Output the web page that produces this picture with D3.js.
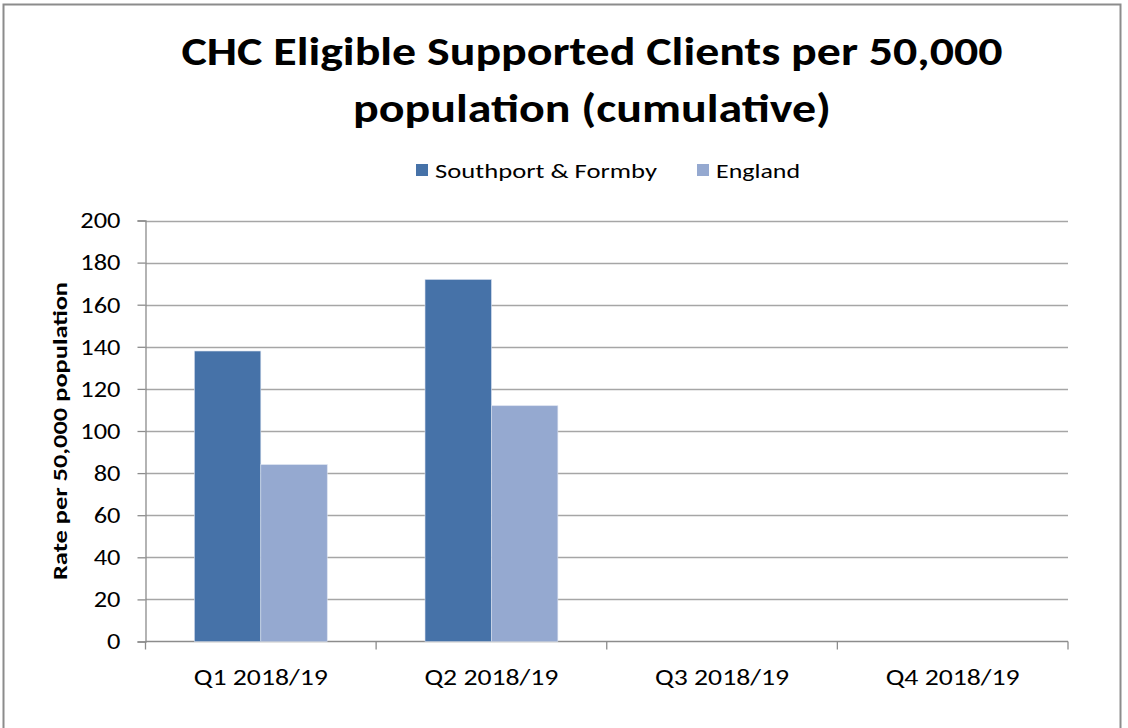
<!DOCTYPE html>
<html>
<head>
<meta charset="utf-8">
<script src="https://cdn.jsdelivr.net/npm/d3@7"></script>
<style>
  body { margin: 0; background: #fff; }
  text { font-family: Carlito, "Liberation Sans Narrow", "Liberation Sans", Arial, sans-serif; fill: #000; }
</style>
</head>
<body>
<svg id="svg"></svg>
<script>
const categories = ["Q1 2018/19", "Q2 2018/19", "Q3 2018/19", "Q4 2018/19"]
const seriesNames = ["Southport & Formby", "England"]
const southport = [138, 172, null, null]
const england = [84, 112, null, null]
const yTicks = [0, 20, 40, 60, 80, 100, 120, 140, 160, 180, 200]
const colors = ["#4672A8", "#95A9D0"]

const svg = d3.select("#svg").attr("width", 1128).attr("height", 728)

// chart frame
svg.append("rect")
  .attr("x", 3.5).attr("y", 4.5)
  .attr("width", 1117).attr("height", 740)
  .attr("fill", "#fff")
  .attr("stroke", "#8c8c8c")
  .attr("stroke-width", 2)

// title
const title = svg.append("text")
  .attr("text-anchor", "middle")
  .attr("font-weight", "bold")
  .attr("font-size", 40)
title.append("tspan").attr("x", 592).attr("y", 65)
  .attr("textLength", 821).attr("lengthAdjust", "spacingAndGlyphs")
  .text("CHC Eligible Supported Clients per 50,000")
title.append("tspan").attr("x", 592).attr("y", 122)
  .attr("textLength", 478).attr("lengthAdjust", "spacingAndGlyphs")
  .text("population (cumulative)")

// legend
const legendItems = [
  { name: seriesNames[0], color: colors[0], x: 416, w: 222 },
  { name: seriesNames[1], color: colors[1], x: 697, w: 84 }
]
const legend = svg.append("g")
legendItems.forEach(d => {
  legend.append("rect")
    .attr("x", d.x).attr("y", 164)
    .attr("width", 12).attr("height", 12)
    .attr("fill", d.color)
  legend.append("text")
    .attr("x", d.x + 19).attr("y", 178)
    .attr("font-size", 21)
    .attr("textLength", d.w).attr("lengthAdjust", "spacingAndGlyphs")
    .text(d.name)
})

// plot area
const x0 = 145.5, x1 = 1068
const x = d3.scaleBand().domain(categories).range([x0, x1]).paddingInner(0.424).paddingOuter(0.212)
const xSub = d3.scaleBand().domain(seriesNames).range([0, x.bandwidth()])
const y = d3.scaleLinear().domain([0, 200]).range([641.5, 220.5])

// gridlines
svg.append("g")
  .selectAll("line")
  .data(yTicks.filter(t => t > 0))
  .enter()
  .append("line")
  .attr("x1", x0).attr("x2", x1)
  .attr("y1", d => Math.round(y(d)) + 0.5).attr("y2", d => Math.round(y(d)) + 0.5)
  .attr("stroke", "#a6a6a6")
  .attr("stroke-width", 1.3)

// y axis
const yAxis = svg.append("g")
  .attr("transform", `translate(${x0},0)`)
  .call(d3.axisLeft(y).tickValues(yTicks).tickSize(8).tickPadding(17))
yAxis.select(".domain").attr("stroke", "#8c8c8c").attr("stroke-width", 1.3)
yAxis.selectAll(".tick line").attr("stroke", "#8c8c8c").attr("stroke-width", 1.3)
yAxis.selectAll(".tick text")
  .attr("font-size", 23).attr("fill", "#000")
  .attr("textLength", d => String(d).length * 13.4).attr("lengthAdjust", "spacingAndGlyphs")
  .style("font-family", "Carlito, 'Liberation Sans', Arial, sans-serif")

// x axis
const xStep = (x1 - x0) / categories.length
const xAxis = svg.append("g")
  .attr("transform", `translate(0,${y(0)})`)
xAxis.append("line")
  .attr("x1", x0).attr("x2", x1)
  .attr("stroke", "#8c8c8c").attr("stroke-width", 1.3)
xAxis.selectAll("line.tk")
  .data(d3.range(categories.length + 1))
  .enter()
  .append("line")
  .classed("tk", true)
  .attr("x1", i => x0 + i * xStep).attr("x2", i => x0 + i * xStep)
  .attr("y1", 0).attr("y2", 8)
  .attr("stroke", "#8c8c8c").attr("stroke-width", 1.3)
xAxis.selectAll("text")
  .data(categories)
  .enter()
  .append("text")
  .attr("x", d => x(d) + x.bandwidth() / 2)
  .attr("y", 43)
  .attr("text-anchor", "middle")
  .attr("font-size", 23)
  .attr("textLength", 134).attr("lengthAdjust", "spacingAndGlyphs")
  .text(d => d)

// y axis title
svg.append("text")
  .attr("transform", "translate(67,431) rotate(-90)")
  .attr("text-anchor", "middle")
  .attr("font-weight", "bold")
  .attr("font-size", 20.5)
  .attr("textLength", 298).attr("lengthAdjust", "spacingAndGlyphs")
  .text("Rate per 50,000 population")

// bars
const rows = categories.map((c, i) => ({ cat: c, values: [southport[i], england[i]] }))
const groups = svg.append("g")
  .selectAll("g.grp")
  .data(rows)
  .enter()
  .append("g")
  .classed("grp", true)
  .attr("transform", d => `translate(${x(d.cat)},0)`)

groups.selectAll("rect")
  .data(d => d.values.map((v, j) => ({ name: seriesNames[j], v: v, color: colors[j] })).filter(e => e.v != null))
  .enter()
  .append("rect")
  .attr("x", d => xSub(d.name))
  .attr("y", d => y(d.v))
  .attr("width", xSub.bandwidth())
  .attr("height", d => y(0) - y(d.v))
  .attr("fill", d => d.color)
  .attr("stroke", "#d8e0ee")
  .attr("stroke-width", 0.6)
</script>
</body>
</html>
